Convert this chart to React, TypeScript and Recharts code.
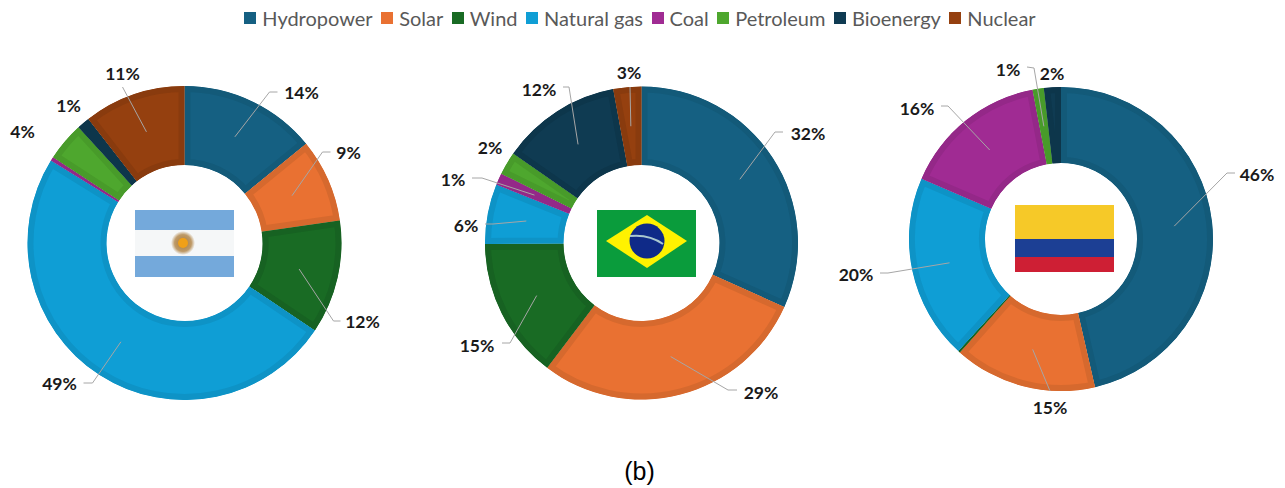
import React from 'react';
import { PieChart, Pie, Sector } from 'recharts';

const SOURCES = ['Hydropower', 'Solar', 'Wind', 'Natural gas', 'Coal', 'Petroleum', 'Bioenergy', 'Nuclear'];
const ARGENTINA = [14.1, 8.6, 11.7, 49.4, 0.4, 4.0, 1.3, 10.5];
const BRAZIL = [31.7, 28.6, 14.6, 6.2, 1.2, 2.4, 12.4, 2.9];
const COLOMBIA = [46.4, 15.2, 0.2, 19.7, 15.5, 1.2, 1.8, 0.0];

const COLORS = ['#156082', '#E97132', '#196B24', '#0F9ED5', '#A02B93', '#4EA72E', '#0F3B52', '#95400F'];
const BORDERS = ['#135A79', '#D6692E', '#176222', '#0E93C6', '#942888', '#489B2A', '#0D364B', '#893B0E'];

type Leader = { label: [number, number]; elbow?: [number, number][] } | null;

// label + elbow positions, relative to the pie centre
const ARGENTINA_LEADERS: Leader[] = [
  { label: [117, -151], elbow: [[85, -151], [93, -151]] },
  { label: [164, -91], elbow: [[138, -91], [146, -91]] },
  { label: [178, 78], elbow: [[149, 78], [156, 78]] },
  { label: [-125, 140], elbow: [[-92, 140], [-101, 140]] },
  null,
  { label: [-162, -112] },
  { label: [-116, -138] },
  { label: [-62, -170], elbow: [[-62, -156]] },
];
const BRAZIL_LEADERS: Leader[] = [
  { label: [166.5, -110], elbow: [[133.5, -111], [141.5, -111]] },
  { label: [119.5, 149], elbow: [[86.5, 147], [95.5, 147]] },
  { label: [-164.5, 102], elbow: [[-131.5, 100], [-139.5, 100]] },
  { label: [-175.5, -18], elbow: [[-148.5, -19], [-156.5, -19]] },
  { label: [-188.5, -64], elbow: [[-159.5, -65], [-169.5, -65]] },
  { label: [-151.5, -96] },
  { label: [-102.5, -154], elbow: [[-72.5, -156], [-78.5, -156]] },
  { label: [-12.5, -171], elbow: [[-11.5, -156]] },
];
const COLOMBIA_LEADERS: Leader[] = [
  { label: [196, -65], elbow: [[166, -66], [174, -66]] },
  { label: [-11, 168], elbow: [[-11, 152]] },
  null,
  { label: [-205, 35], elbow: [[-173, 34], [-181, 34]] },
  { label: [-144, -131], elbow: [[-113, -133], [-120, -133]] },
  { label: [-53, -170], elbow: [[-27, -171], [-34, -172]] },
  { label: [-9, -166] },
  null,
];

const toRows = (values: number[]) =>
  SOURCES.map((name, i) => ({ name, value: values[i], fill: COLORS[i] }));

const RADIAN = Math.PI / 180;
const LABEL_FONT = 'Lato, Carlito, sans-serif';

// slice with a darker band just inside its edge
const makeShape = (prefix: string) => (props: any) => {
  const { index, cx, cy, innerRadius, outerRadius, startAngle, endAngle, fill } = props;
  const id = `${prefix}-clip-${index}`;
  const geom = { cx, cy, innerRadius, outerRadius, startAngle, endAngle };
  return (
    <g>
      <clipPath id={id}>
        <Sector {...geom} />
      </clipPath>
      <g clipPath={`url(#${id})`}>
        <Sector {...geom} fill={fill} stroke={BORDERS[index]} strokeWidth={12} />
      </g>
    </g>
  );
};

const makeLabel = (leaders: Leader[]) => (props: any) => {
  const { cx, cy, midAngle, innerRadius, outerRadius, index, value } = props;
  const leader = leaders[index];
  if (!leader) return <g key={index} />;
  const r = innerRadius + (outerRadius - innerRadius) * 0.5;
  const sx = cx + r * Math.cos(-midAngle * RADIAN);
  const sy = cy + r * Math.sin(-midAngle * RADIAN);
  const pts = leader.elbow
    ? [`${sx},${sy}`, ...leader.elbow.map(([x, y]) => `${cx + x},${cy + y}`)].join(' ')
    : null;
  return (
    <g key={index}>
      {pts && <polyline points={pts} fill="none" stroke="#A6A6A6" strokeWidth={1} />}
      <text
        x={cx + leader.label[0]}
        y={cy + leader.label[1]}
        textAnchor="middle"
        dominantBaseline="central"
        fontFamily={LABEL_FONT}
        fontWeight={700}
        fontSize={17.5}
        fill="#1A1A1A"
      >
        {Math.round(value)}%
      </text>
    </g>
  );
};

const LegendRow = () => (
  <div
    style={{
      position: 'absolute',
      left: 0,
      top: 6,
      width: 1280,
      display: 'flex',
      justifyContent: 'center',
      gap: 8.5,
      fontFamily: LABEL_FONT,
      fontSize: 20,
      lineHeight: '24px',
      color: '#595959',
    }}
  >
    {SOURCES.map((name, i) => (
      <span key={name} style={{ display: 'flex', alignItems: 'center', gap: 6 }}>
        <span style={{ width: 12, height: 12, background: COLORS[i], display: 'inline-block' }} />
        {name}
      </span>
    ))}
  </div>
);

const Flag = ({ x, y, children }: { x: number; y: number; children: React.ReactNode }) => (
  <svg
    width={99}
    height={67}
    viewBox="0 0 99 67"
    style={{ position: 'absolute', left: x, top: y }}
  >
    {children}
  </svg>
);

export default function App() {
  const ring = { dataKey: 'value', nameKey: 'name', startAngle: 90, endAngle: -270, labelLine: false, isAnimationActive: false, stroke: 'none' };
  return (
    <div style={{ position: 'absolute', left: 0, top: 0, width: 1285, height: 488, background: '#fff' }}>
      <PieChart width={1285} height={488} margin={{ top: 0, right: 0, bottom: 0, left: 0 }}>
        <Pie
          {...ring}
          data={toRows(ARGENTINA)}
          cx={184.5}
          cy={243}
          outerRadius={157}
          innerRadius={78}
          shape={makeShape('ar')}
          label={makeLabel(ARGENTINA_LEADERS)}
        />
        <Pie
          {...ring}
          data={toRows(BRAZIL)}
          cx={641.5}
          cy={243}
          outerRadius={156.5}
          innerRadius={78}
          shape={makeShape('br')}
          label={makeLabel(BRAZIL_LEADERS)}
        />
        <Pie
          {...ring}
          data={toRows(COLOMBIA)}
          cx={1061}
          cy={239}
          outerRadius={152}
          innerRadius={76}
          shape={makeShape('co')}
          label={makeLabel(COLOMBIA_LEADERS)}
        />
      </PieChart>

      <LegendRow />

      <Flag x={135} y={210}>
        <defs>
          <radialGradient id="sun">
            <stop offset="0%" stopColor="#A87A3C" />
            <stop offset="70%" stopColor="#BE9A68" />
            <stop offset="100%" stopColor="#F5F7F8" />
          </radialGradient>
        </defs>
        <rect width={99} height={67} fill="#74A9DB" />
        <rect y={20} width={99} height={26} fill="#F5F7F8" />
        <circle cx={48} cy={33} r={12} fill="url(#sun)" />
        <circle cx={48} cy={33} r={5} fill="#F0A018" />
      </Flag>
      <Flag x={597} y={210}>
        <rect width={99} height={67} fill="#0A9C3C" />
        <polygon points="9,31 50,5 90,31 50,58" fill="#FFF200" />
        <circle cx={50} cy={31} r={17.5} fill="#0F2A88" />
        <path d="M33,26 Q52,24 66,34" stroke="#A9C7CF" strokeWidth={2} fill="none" />
      </Flag>
      <Flag x={1015} y={205}>
        <rect width={99} height={34} fill="#F6C928" />
        <rect y={34} width={99} height={18} fill="#1C3F94" />
        <rect y={52} width={99} height={15} fill="#CE1F34" />
      </Flag>

      <div
        style={{
          position: 'absolute',
          left: 0,
          top: 456,
          width: 1279,
          textAlign: 'center',
          fontFamily: '"Liberation Sans", Arial, sans-serif',
          fontSize: 25,
          lineHeight: '30px',
          color: '#000',
        }}
      >
        (b)
      </div>
    </div>
  );
}
